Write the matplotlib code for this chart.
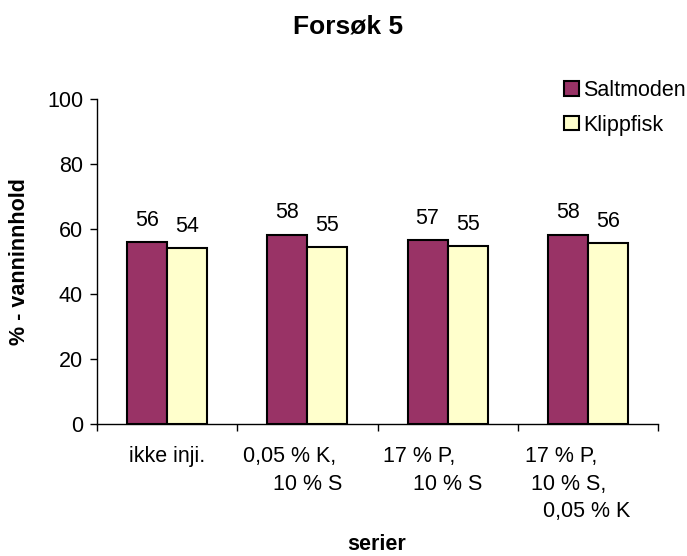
import matplotlib
matplotlib.use("Agg")
import matplotlib.pyplot as plt
import numpy as np

plt.rcParams["font.family"] = ["Liberation Sans", "DejaVu Sans"]

# Data
categories = ["ikke inji.",
              "0,05 % K,\n     10 % S",
              "17 % P,\n     10 % S",
              "17 % P,\n 10 % S,\n   0,05 % K"]
saltmoden = [56.0, 58.4, 56.6, 58.4]
klippfisk = [54.2, 54.6, 55.0, 55.7]
label_shift = [0, -15, -14.5, -10]  # pixels, mimics Excel's wrapping

W, H = 687, 556
FS = 15.5
fig = plt.figure(figsize=(W / 100, H / 100), dpi=100)
ax = fig.add_axes([97 / W, (H - 424.3) / H, (658 - 97) / W, (424.3 - 99.3) / H])

x = np.arange(len(categories))
bw = 40 / 140
b1 = ax.bar(x - bw / 2, saltmoden, bw, color="#993366", edgecolor="black",
            linewidth=1.5, label="Saltmoden")
b2 = ax.bar(x + bw / 2, klippfisk, bw, color="#FFFFCC", edgecolor="black",
            linewidth=1.5, label="Klippfisk")

for bars, vals in ((b1, saltmoden), (b2, klippfisk)):
    for r, v in zip(bars, vals):
        ax.annotate(f"{round(v):d}", xy=(r.get_x() + r.get_width() / 2, v),
                    xytext=(0, 16), textcoords="offset pixels",
                    ha="center", va="baseline", fontsize=FS)

ax.set_xlim(-0.5, len(categories) - 0.5)
ax.set_ylim(0, 100)
ax.set_yticks(np.arange(0, 101, 20))
ax.tick_params(axis="y", labelsize=FS, length=5, width=1, direction="out", pad=5)

# category ticks sit between the groups
ax.set_xticks([])
ax.set_xticks(np.arange(-0.5, len(categories)), minor=True)
ax.tick_params(axis="x", which="minor", length=5, width=1, direction="out",
               labelbottom=False)

for i, (lab, dx) in enumerate(zip(categories, label_shift)):
    ax.annotate(lab, xy=(i, 0), xycoords=("data", "axes fraction"),
                xytext=(dx, -22), textcoords="offset pixels",
                ha="center", va="top", multialignment="left",
                linespacing=1.4, fontsize=FS)

for s in ("top", "right"):
    ax.spines[s].set_visible(False)
for s in ("left", "bottom"):
    ax.spines[s].set_linewidth(1)

fig.text(348 / W, 1 - 27 / H, "Forsøk 5", ha="center", va="center",
         fontsize=19, fontweight="bold")
fig.text(20 / W, 1 - 262 / H, "% - vanninnhold", ha="center", va="center",
         rotation=90, fontsize=FS, fontweight="bold")
fig.text(377 / W, 1 - 545 / H, "serier", ha="center", va="center",
         fontsize=FS, fontweight="bold")

fig.legend(handles=[b1, b2], loc="upper left",
           bbox_to_anchor=(564 / W, 1 - 80 / H), frameon=False, fontsize=FS,
           borderpad=0, handlelength=0.68, handleheight=0.68,
           handletextpad=0.2, labelspacing=0.63, borderaxespad=0)

fig.savefig("out.png", dpi=100)
